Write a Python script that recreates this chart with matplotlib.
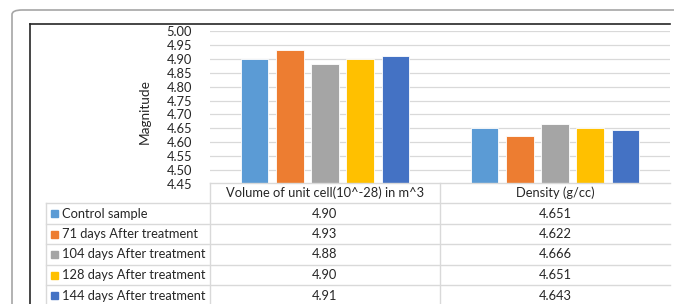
import numpy as np
import matplotlib.pyplot as plt
from matplotlib.lines import Line2D
from matplotlib.patches import FancyBboxPatch, Rectangle

plt.rcParams['font.family'] = ['Lato', 'DejaVu Sans']

categories = ['Volume of unit cell(10^-28) in m^3', 'Density (g/cc)']
series = ['Control sample', '71 days After treatment', '104 days After treatment',
          '128 days After treatment', '144 days After treatment']
volume = [4.90, 4.93, 4.88, 4.90, 4.91]
density = [4.651, 4.622, 4.666, 4.651, 4.643]
volume_txt = ['4.90', '4.93', '4.88', '4.90', '4.91']
density_txt = ['4.651', '4.622', '4.666', '4.651', '4.643']
colors = ['#5B9BD5', '#ED7D31', '#A5A5A5', '#FFC000', '#4472C4']
yticks = np.arange(4.45, 5.001, 0.05)

W, H = 674, 304
FS = 9.3
TXT = '#262626'
fig = plt.figure(figsize=(W/100, H/100), dpi=100)

def fx(px): return px/W
def fy(py): return 1 - py/H

# outer rounded frame and inner frame lines
fig.add_artist(FancyBboxPatch((fx(12), fy(330)), fx(700), fy(10)-fy(330),
                              boxstyle='round,pad=0,rounding_size=0.015',
                              transform=fig.transFigure, fill=False,
                              edgecolor='#A6A6A6', lw=1.2))
fig.add_artist(Line2D([fx(30), fx(670)], [fy(24), fy(24)], color='#262626', lw=1.2))
fig.add_artist(Line2D([fx(30), fx(30)], [fy(24), fy(310)], color='#262626', lw=1.2))

ax = fig.add_axes([fx(210), fy(184), fx(670)-fx(210), fy(31)-fy(184)])
vals = np.array([volume, density])  # shape (2, 5)
x = np.arange(len(categories))
step = 0.153
for i in range(len(series)):
    ax.bar(x + (i - 2)*step, vals[:, i], width=0.12, bottom=0,
           color=colors[i], edgecolor='white', linewidth=0.6, zorder=3)
ax.set_xlim(-0.5, 1.5)
ax.set_ylim(4.45, 5.00)
ax.set_yticks(yticks)
ax.set_yticklabels(['%.2f' % t for t in yticks], fontsize=FS, color=TXT)
ax.tick_params(axis='y', length=0, pad=13)
ax.set_xticks([])
ax.grid(axis='y', color='#D9D9D9', lw=0.9, zorder=0)
for s in ax.spines.values():
    s.set_visible(False)
fig.text(fx(145), fy(112), 'Magnitude', rotation=90, ha='center', va='center',
         fontsize=9.8, color=TXT)

# data table
grid_c = '#D9D9D9'
row_edges = [183, 203, 224, 244, 265, 285, 306]
col_x = [46, 210, 440, 670]
for k, ry in enumerate(row_edges):
    x0 = col_x[1] if k == 0 else col_x[0]
    fig.add_artist(Line2D([fx(x0), fx(670)], [fy(ry), fy(ry)], color=grid_c, lw=1))
fig.add_artist(Line2D([fx(col_x[0])]*2, [fy(203), fy(310)], color=grid_c, lw=1))
for cx in col_x[1:3]:
    fig.add_artist(Line2D([fx(cx)]*2, [fy(183), fy(310)], color=grid_c, lw=1))

for j, cat in enumerate(categories):
    cxm = (col_x[j+1] + col_x[j+2]) / 2
    fig.text(fx(cxm), fy(193), cat, ha='center', va='center', fontsize=FS, color=TXT)

for i, name in enumerate(series):
    ym = (row_edges[i+1] + row_edges[i+2]) / 2
    fig.add_artist(Rectangle((fx(51), fy(ym+3.5)), fx(7), fy(ym-3.5)-fy(ym+3.5),
                             transform=fig.transFigure, color=colors[i]))
    fig.text(fx(62), fy(ym), name, ha='left', va='center', fontsize=FS, color=TXT)
    fig.text(fx(325), fy(ym), volume_txt[i], ha='center', va='center', fontsize=FS, color=TXT)
    fig.text(fx(555), fy(ym), density_txt[i], ha='center', va='center', fontsize=FS, color=TXT)

fig.savefig('out.png', dpi=100)
